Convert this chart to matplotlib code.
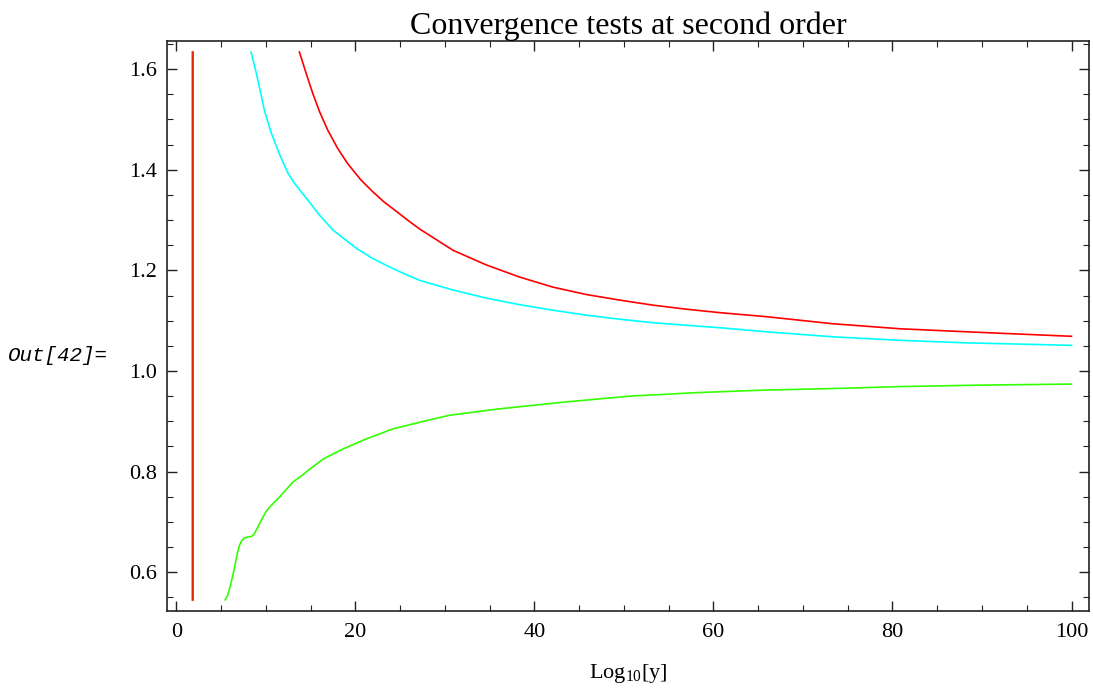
import numpy as np
import matplotlib
matplotlib.use("Agg")
import matplotlib.pyplot as plt

plt.rcParams['font.family'] = ['Liberation Serif', 'DejaVu Serif']
plt.rcParams['mathtext.fontset'] = 'custom'
plt.rcParams['mathtext.rm'] = 'Liberation Serif'

# ratio curves
red_x = [13.74, 14.49, 15.23, 15.98, 16.9, 18.0, 19.1, 20.6, 21.9, 23.2, 24.6, 25.9, 27.2,
         29.4, 30.9, 34.6, 38.3, 42.0, 45.8, 49.5, 53.2, 56.9, 60.7, 65.9, 73.3, 80.8,
         88.2, 100.0]
red_y = [1.634, 1.592, 1.552, 1.516, 1.479, 1.443, 1.413, 1.380, 1.357, 1.336, 1.317, 1.299,
         1.282, 1.257, 1.240, 1.211, 1.187, 1.167, 1.152, 1.141, 1.131, 1.123, 1.116, 1.108,
         1.094, 1.084, 1.078, 1.069]

cyan_x = [8.34, 8.9, 9.3, 9.83, 10.58, 11.51, 12.44, 13.2, 13.9, 14.67, 15.98, 17.5, 20.1,
          21.9, 23.8, 25.5, 27.2, 30.9, 34.6, 38.3, 42.0, 45.8, 49.5, 53.2, 56.9, 60.7,
          65.9, 73.3, 80.8, 88.2, 100.0]
cyan_y = [1.634, 1.594, 1.562, 1.518, 1.474, 1.431, 1.394, 1.373, 1.357, 1.340, 1.310,
          1.280, 1.244, 1.224, 1.207, 1.193, 1.180, 1.161, 1.145, 1.132, 1.121, 1.111,
          1.103, 1.096, 1.091, 1.086, 1.078, 1.068, 1.061, 1.056, 1.051]

green_x = [5.44, 5.7, 5.92, 6.1, 6.29, 6.5, 6.67, 6.85, 7.04, 7.3, 7.6, 8.0, 8.35, 8.65,
           8.9, 9.3, 9.65, 10.0, 10.39, 11.0, 11.5, 12.2, 13.0, 14.0, 14.9, 16.4, 18.6,
           21.2, 24.2, 27.6, 30.5, 35.7, 43.2, 50.6, 58.1, 65.5, 73.0, 80.8, 90.0, 100.0]
green_y = [0.545, 0.553, 0.566, 0.578, 0.593, 0.610, 0.626, 0.640, 0.653, 0.663, 0.668,
           0.670, 0.671, 0.675, 0.683, 0.697, 0.709, 0.720, 0.729, 0.740, 0.749, 0.763,
           0.779, 0.792, 0.805, 0.825, 0.845, 0.865, 0.885, 0.900, 0.912, 0.924, 0.938,
           0.950, 0.957, 0.962, 0.965, 0.969, 0.972, 0.974]

# pole crossings near x ~ 1.8
pole_green_x = [1.73, 1.73]
pole_red_x = [1.82, 1.82]
pole_y = [0.545, 1.634]

fig = plt.figure(figsize=(10.93, 6.91), dpi=100)
ax = fig.add_axes([0.1528, 0.1158, 0.9963 - 0.1528, 0.9407 - 0.1158])

lw = 1.2
ax.plot(pole_green_x, pole_y, color='#33ff00', lw=lw)
ax.plot(pole_red_x, pole_y, color='#ff0000', lw=lw)
ax.plot(cyan_x, cyan_y, color='#00ffff', lw=lw)
ax.plot(red_x, red_y, color='#ff0000', lw=lw)
ax.plot(green_x, green_y, color='#33ff00', lw=lw)

ax.set_xlim(-1.05, 101.95)
ax.set_ylim(0.523, 1.656)
ax.set_xticks([0, 20, 40, 60, 80, 100])
ax.set_xticks(np.arange(0, 101, 5), minor=True)
ax.set_yticks([0.6, 0.8, 1.0, 1.2, 1.4, 1.6])
ax.set_yticks(np.arange(0.55, 1.66, 0.05), minor=True)
ax.set_yticklabels(['0.6', '0.8', '1.0', '1.2', '1.4', '1.6'])

ax.tick_params(which='both', direction='in', top=True, right=True, labelsize=16, color='#222222')
ax.tick_params(which='major', length=7.5, width=1.0)
ax.tick_params(which='minor', length=4.5, width=0.8)
ax.tick_params(axis='x', pad=9)
ax.tick_params(axis='y', pad=7)
for s in ax.spines.values():
    s.set_linewidth(1.2)
    s.set_color('#222222')

ax.set_title('Convergence tests at second order', fontsize=23, pad=4)
ax.set_xlabel(r'Log$_{10}$[y]', fontsize=16, labelpad=14)

fig.text(0.0073, 0.486, 'Out[42]=', family='Liberation Mono', style='italic',
         fontsize=15, va='center', ha='left')

fig.savefig('out.png', dpi=100)
